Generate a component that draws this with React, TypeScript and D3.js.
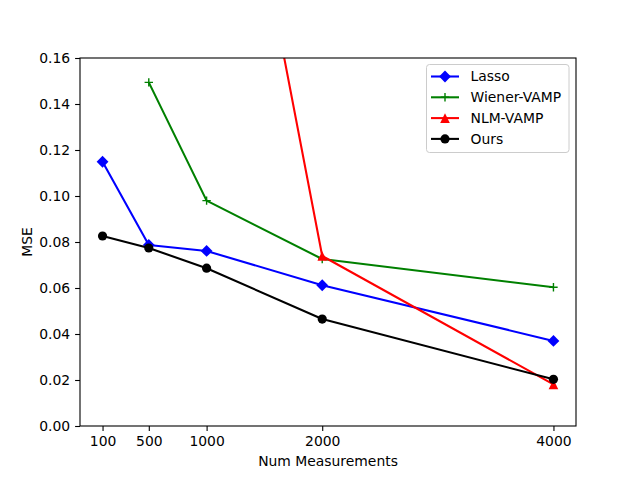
import React, { useEffect, useRef } from 'react';
import * as d3 from 'd3';

const measurements = [100, 500, 1000, 2000, 4000];
const lassoMse = [0.1149, 0.0787, 0.0761, 0.0612, 0.0370];
const wienerX = [500, 1000, 2000, 4000];
const wienerMse = [0.1494, 0.098, 0.0726, 0.0603];
const nlmX = [1000, 2000, 4000];
const nlmMse = [0.336, 0.0739, 0.0181];
const oursMse = [0.0826, 0.0774, 0.0686, 0.0465, 0.0203];
const yTicks = [0, 0.02, 0.04, 0.06, 0.08, 0.1, 0.12, 0.14, 0.16];

type Series = { name: string; color: string; marker: string; xs: number[]; ys: number[] };

const series: Series[] = [
    { name: 'Lasso', color: '#0000ff', marker: 'diamond', xs: measurements, ys: lassoMse },
    { name: 'Wiener-VAMP', color: '#008000', marker: 'plus', xs: wienerX, ys: wienerMse },
    { name: 'NLM-VAMP', color: '#ff0000', marker: 'triangle', xs: nlmX, ys: nlmMse },
    { name: 'Ours', color: '#000000', marker: 'circle', xs: measurements, ys: oursMse },
];

function drawMarker(g: d3.Selection<SVGGElement, unknown, null, undefined>, kind: string, cx: number, cy: number, color: string) {
    if (kind === 'circle') {
        g.append('circle').attr('cx', cx).attr('cy', cy).attr('r', 4.6).attr('fill', color);
    } else if (kind === 'diamond') {
        const r = 5.9;
        g.append('path').attr('d', `M${cx},${cy - r}L${cx + r},${cy}L${cx},${cy + r}L${cx - r},${cy}Z`).attr('fill', color);
    } else if (kind === 'triangle') {
        const r = 4.8;
        g.append('path').attr('d', `M${cx},${cy - r}L${cx + r},${cy + r}L${cx - r},${cy + r}Z`).attr('fill', color);
    } else {
        const r = 4.2;
        g.append('path').attr('d', `M${cx - r},${cy}H${cx + r}M${cx},${cy - r}V${cy + r}`).attr('stroke', color).attr('stroke-width', 1.4);
    }
}

export default function App() {
    const ref = useRef<SVGSVGElement | null>(null);
    useEffect(() => {
        const svg = d3.select(ref.current);
        svg.selectAll('*').remove();
        const left = 80, right = 576, top = 58, bottom = 426;
        const font = 'DejaVu Sans, sans-serif';
        const x = d3.scaleLinear().domain([-95, 4195]).range([left, right]);
        const y = d3.scaleLinear().domain([0, 0.16]).range([bottom, top]);

        svg.append('rect').attr('width', 640).attr('height', 478).attr('fill', '#fff');

        svg.append('defs').append('clipPath').attr('id', 'plotclip')
            .append('rect').attr('x', left).attr('y', top).attr('width', right - left).attr('height', bottom - top);

        const plot = svg.append('g').attr('clip-path', 'url(#plotclip)');
        const line = d3.line<[number, number]>().x(d => x(d[0])).y(d => y(d[1]));
        series.forEach(s => {
            const pts = s.xs.map((v, i) => [v, s.ys[i]] as [number, number]);
            plot.append('path').attr('d', line(pts)!).attr('fill', 'none')
                .attr('stroke', s.color).attr('stroke-width', 2.08).attr('stroke-linejoin', 'round');
            const mg = plot.append('g');
            pts.forEach(p => drawMarker(mg as any, s.marker, x(p[0]), y(p[1]), s.color));
        });

        const xAxis = svg.append('g').attr('transform', `translate(0,${bottom})`)
            .call(d3.axisBottom(x).tickValues(measurements).tickFormat(d3.format('d')).tickSize(4.9).tickPadding(4.9));
        const yAxis = svg.append('g').attr('transform', `translate(${left},0)`)
            .call(d3.axisLeft(y).tickValues(yTicks).tickFormat(d3.format('.2f')).tickSize(4.9).tickPadding(4.9));
        [xAxis, yAxis].forEach(a => {
            a.select('.domain').remove();
            a.selectAll('line').attr('stroke', '#000').attr('stroke-width', 1.1);
            a.selectAll('text').attr('font-family', font).attr('font-size', 13.9).attr('fill', '#000');
        });

        svg.append('rect').attr('x', left).attr('y', top).attr('width', right - left).attr('height', bottom - top)
            .attr('fill', 'none').attr('stroke', '#000').attr('stroke-width', 1.1);

        svg.append('text').attr('x', (left + right) / 2).attr('y', 466).attr('text-anchor', 'middle')
            .attr('font-family', font).attr('font-size', 13.9).text('Num Measurements');
        svg.append('text').attr('transform', `translate(32,${(top + bottom) / 2}) rotate(-90)`).attr('text-anchor', 'middle')
            .attr('font-family', font).attr('font-size', 13.9).text('MSE');

        const legend = svg.append('g');
        legend.append('rect').attr('x', 426.5).attr('y', 64.5).attr('width', 142.5).attr('height', 88).attr('rx', 3)
            .attr('fill', '#fff').attr('fill-opacity', 0.8).attr('stroke', '#ccc').attr('stroke-width', 1);
        series.forEach((s, i) => {
            const ly = 76.5 + i * 20.8;
            legend.append('line').attr('x1', 431).attr('x2', 459).attr('y1', ly).attr('y2', ly)
                .attr('stroke', s.color).attr('stroke-width', 2.08);
            drawMarker(legend as any, s.marker, 445, ly, s.color);
            legend.append('text').attr('x', 470.5).attr('y', ly).attr('dy', '0.35em')
                .attr('font-family', font).attr('font-size', 13.9).text(s.name);
        });
    }, []);
    return <svg ref={ref} width={640} height={478} style={{ display: 'block', margin: -8 }} />;
}
